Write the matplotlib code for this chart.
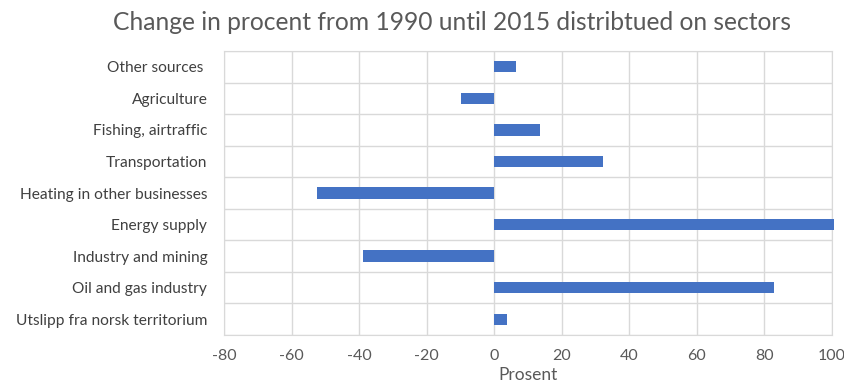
import matplotlib
matplotlib.use("Agg")
import matplotlib.pyplot as plt

sectors = [
    "Utslipp fra norsk territorium",
    "Oil and gas industry",
    "Industry and mining",
    "Energy supply",
    "Heating in other businesses",
    "Transportation",
    "Fishing, airtraffic",
    "Agriculture",
    "Other sources ",
]
change_pct = [3.9, 82.8, -38.9, 100.5, -52.5, 32.3, 13.6, -9.7, 6.3]
x_ticks = [-80, -60, -40, -20, 0, 20, 40, 60, 80, 100]

plt.rcParams["font.family"] = ["Lato", "DejaVu Sans"]

fig = plt.figure(figsize=(8.45, 3.84), dpi=100)
ax = fig.add_axes([224 / 845, 1 - 335 / 384, (832 - 224) / 845, (335 - 51) / 384])

n = len(sectors)
ax.barh(range(n), change_pct, height=0.36, color="#4472C4", zorder=3, clip_on=False)

ax.set_xlim(-80, 100)
ax.set_ylim(-0.5, n - 0.5)
ax.set_xticks(x_ticks)
ax.set_xticklabels([str(t) for t in x_ticks])
ax.set_yticks(range(n))
ax.set_yticklabels(sectors)

# category boundaries as horizontal gridlines
ax.set_yticks([i - 0.5 for i in range(n + 1)], minor=True)
ax.grid(axis="x", which="major", color="#d9d9d9", linewidth=1.0, zorder=0)
ax.grid(axis="y", which="minor", color="#d9d9d9", linewidth=1.0, zorder=0)
ax.tick_params(axis="both", which="both", length=0)
ax.tick_params(axis="x", labelsize=11.5, labelcolor="#595959", pad=10)
ax.tick_params(axis="y", labelsize=11.2, labelcolor="#404040", pad=12)
for s in ax.spines.values():
    s.set_color("#d9d9d9")

ax.set_xlabel("Prosent", fontsize=12.5, color="#595959", labelpad=3)
fig.text(452 / 845, 1 - 22 / 384, "Change in procent from 1990 until 2015 distribtued on sectors",
         ha="center", va="center", fontsize=17.7, color="#595959")

fig.savefig("out.png", dpi=100, facecolor="white")
